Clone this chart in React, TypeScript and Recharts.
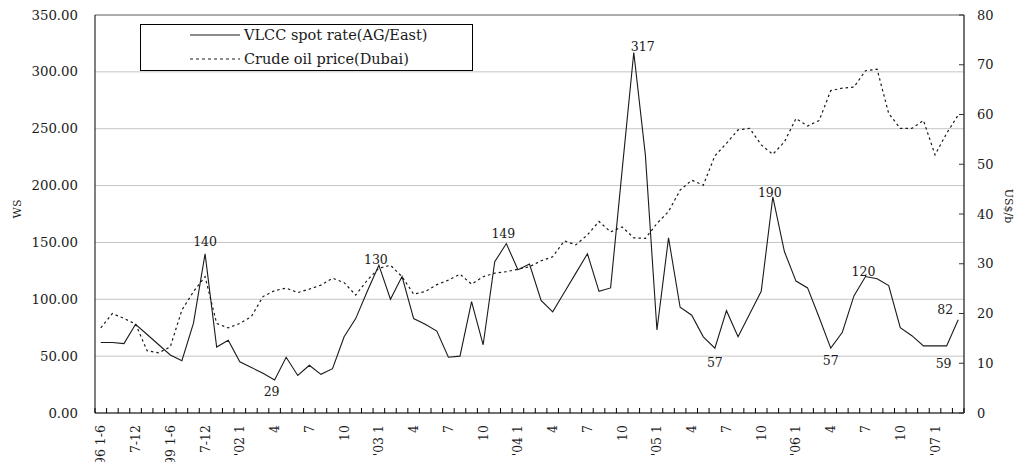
import React from 'react';
import { LineChart, Line, XAxis, YAxis, CartesianGrid, Legend, LabelList, ReferenceLine } from 'recharts';

const categories: string[] = [
  "'96 1-6", "'96 7-12", "'97 1-6", "'97 7-12", "'98 1-6", "'98 7-12",
  "'99 1-6", "'99 7-12", "'00 1-6", "'00 7-12", "'01 1-6", "'01 7-12",
  "'02 1", "'02 2", "'02 3", "'02 4", "'02 5", "'02 6", "'02 7", "'02 8", "'02 9", "'02 10", "'02 11", "'02 12",
  "'03 1", "'03 2", "'03 3", "'03 4", "'03 5", "'03 6", "'03 7", "'03 8", "'03 9", "'03 10", "'03 11", "'03 12",
  "'04 1", "'04 2", "'04 3", "'04 4", "'04 5", "'04 6", "'04 7", "'04 8", "'04 9", "'04 10", "'04 11", "'04 12",
  "'05 1", "'05 2", "'05 3", "'05 4", "'05 5", "'05 6", "'05 7", "'05 8", "'05 9", "'05 10", "'05 11", "'05 12",
  "'06 1", "'06 2", "'06 3", "'06 4", "'06 5", "'06 6", "'06 7", "'06 8", "'06 9", "'06 10", "'06 11", "'06 12",
  "'07 1", "'07 2", "'07 3",
];

// VLCC spot rate (AG/East), WS
const vlccRate: number[] = [
  62, 62, 61, 78, 69, 60, 51, 46, 79, 140, 58, 64,
  45, 40, 35, 29, 49, 33, 42, 34, 39, 67, 83, 107,
  130, 100, 120, 83, 78, 72, 49, 50, 98, 60, 133, 149,
  126, 131, 99, 89, 106, 123, 140, 107, 110, 214, 317, 227,
  73, 154, 93, 86, 67, 57, 90, 67, 87, 107, 190, 142,
  116, 110, 84, 57, 71, 103, 120, 118, 112, 75, 68, 59,
  59, 59, 82,
];

// Crude oil price (Dubai), US$/b
const crudePrice: number[] = [
  17.1, 20.0, 19.0, 17.9, 12.5, 12.1, 13.3, 20.7, 24.4, 27.4, 18.0, 17.1,
  18.0, 19.4, 23.4, 24.6, 25.1, 24.2, 24.9, 25.7, 27.1, 26.2, 23.7, 26.7,
  29.1, 29.7, 27.4, 23.9, 24.4, 25.8, 26.7, 27.9, 25.9, 27.4, 28.1, 28.4,
  28.9, 29.4, 30.6, 31.4, 34.6, 33.8, 35.8, 38.5, 36.4, 37.4, 35.2, 35.1,
  38.1, 40.5, 44.8, 46.8, 45.8, 51.7, 54.2, 56.9, 57.2, 53.9, 52.0, 54.5,
  59.2, 57.7, 58.8, 64.8, 65.3, 65.5, 68.8, 69.1, 60.2, 57.2, 57.2, 58.8,
  51.9, 56.2, 59.9,
];

const xTickCategories: string[] = [
  "'96 1-6", "'97 7-12", "'99 1-6", "'00 7-12",
  "'02 1", "'02 4", "'02 7", "'02 10",
  "'03 1", "'03 4", "'03 7", "'03 10",
  "'04 1", "'04 4", "'04 7", "'04 10",
  "'05 1", "'05 4", "'05 7", "'05 10",
  "'06 1", "'06 4", "'06 7", "'06 10",
  "'07 1",
];
const xTickLabels: string[] = [
  "'96 1-6", "7-12", "'99 1-6", "7-12",
  "'02 1", "4", "7", "10",
  "'03 1", "4", "7", "10",
  "'04 1", "4", "7", "10",
  "'05 1", "4", "7", "10",
  "'06 1", "4", "7", "10",
  "'07 1",
];

const wsTicks = [0, 50, 100, 150, 200, 250, 300, 350];
const usdTicks = [0, 10, 20, 30, 40, 50, 60, 70, 80];

const labelledPoints: number[] = [9, 15, 24, 35, 46, 53, 58, 63, 66, 73, 74];
const labelOffsets: Record<number, [number, number]> = {
  9: [0, -12], 15: [-3, 11], 24: [-3, -6], 35: [-3, -10], 46: [9, -6],
  53: [0, 14], 58: [-3, -4], 63: [0, 12], 66: [-2, -5], 73: [-3, 18], 74: [-13, -10],
};

const data = categories.map((c, i) => ({ period: c, vlcc: vlccRate[i], crude: crudePrice[i] }));

const FONT = '"DejaVu Serif", serif';
const INK = '#1a1a1a';

const XTick = (props: any) => {
  const { x, y, payload } = props;
  const off = payload && payload.offset ? payload.offset : 0;
  const idx = xTickCategories.indexOf(payload.value);
  const label = idx >= 0 ? xTickLabels[idx] : '';
  const isLast = payload.value === categories[categories.length - 1];
  return (
    <g>
      <line x1={x - off} x2={x - off} y1={y} y2={y - 5} stroke="#000" strokeWidth={1} />
      {isLast && <line x1={x + off} x2={x + off} y1={y} y2={y - 5} stroke="#000" strokeWidth={1} />}
      {label && (
        <text
          transform={`translate(${x},${y + 12}) rotate(-90)`}
          textAnchor="end"
          dominantBaseline="central"
          fontFamily={FONT}
          fontSize={12.5}
          fill={INK}
        >
          {label}
        </text>
      )}
    </g>
  );
};

const RightTick = (props: any) => {
  const { x, y, payload } = props;
  const ax = x - 13;
  return (
    <g>
      <line x1={ax} x2={ax - 5} y1={y} y2={y} stroke="#333" strokeWidth={1} />
      <text x={x} y={y} textAnchor="start" dominantBaseline="central" fontFamily={FONT} fontSize={13} fill={INK}>
        {payload.value}
      </text>
    </g>
  );
};

const LeftTick = (props: any) => {
  const { x, y, payload } = props;
  return (
    <text x={x} y={y} textAnchor="end" dominantBaseline="central" fontFamily={FONT} fontSize={13.3} fill={INK}>
      {Number(payload.value).toFixed(2)}
    </text>
  );
};

const LeftTitle = (props: any) => {
  const vb = props.viewBox || { x: 0, y: 15, width: 95, height: 398 };
  const cx = vb.x + 17;
  const cy = vb.y + vb.height / 2 - 5;
  return (
    <text x={cx} y={cy} transform={`rotate(-90 ${cx} ${cy})`} textAnchor="middle" dominantBaseline="central" fontFamily={FONT} fontSize={11} fill={INK}>
      WS
    </text>
  );
};

const RightTitle = (props: any) => {
  const vb = props.viewBox || { x: 964, y: 15, width: 53, height: 398 };
  const cx = vb.x + 44;
  const cy = vb.y + vb.height / 2 - 8;
  return (
    <text x={cx} y={cy} transform={`rotate(90 ${cx} ${cy})`} textAnchor="middle" dominantBaseline="central" fontFamily={FONT} fontSize={11} fill={INK}>
      US$/b
    </text>
  );
};

const PointLabel = (props: any) => {
  const { x, y, value, index } = props;
  if (!labelledPoints.includes(index)) return null;
  const [dx, dy] = labelOffsets[index] || [0, -10];
  return (
    <text x={x + dx} y={y + dy} textAnchor="middle" dominantBaseline="central" fontFamily={FONT} fontSize={12.5} fill={INK}>
      {value}
    </text>
  );
};

const LegendBox = () => (
  <div style={{ width: 333, height: 47, border: '1px solid #000', boxSizing: 'border-box', background: '#fff' }}>
    <svg width={331} height={45} style={{ display: 'block' }}>
      <line x1={49} x2={99} y1={10} y2={10} stroke={INK} strokeWidth={1.2} />
      <text x={103} y={10} dominantBaseline="central" fontFamily={FONT} fontSize={14.5} fill={INK}>
        VLCC spot rate(AG/East)
      </text>
      <line x1={49} x2={99} y1={34} y2={34} stroke={INK} strokeWidth={1.2} strokeDasharray="3 3" />
      <text x={103} y={34} dominantBaseline="central" fontFamily={FONT} fontSize={14.5} fill={INK}>
        Crude oil price(Dubai)
      </text>
    </svg>
  </div>
);

export default function App() {
  return (
    <div style={{ position: 'absolute', left: 0, top: 0, width: 1017, height: 462, background: '#fff' }}>
      <LineChart width={1017} height={462} data={data} margin={{ top: 15, right: 0, bottom: 0, left: 0 }}>
        <CartesianGrid yAxisId="ws" vertical={false} horizontal stroke="#c4c4c4" strokeWidth={1} />
        <XAxis
          dataKey="period"
          scale="band"
          interval={0}
          height={49}
          tickSize={0}
          tickMargin={0}
          tickLine={false}
          axisLine={{ stroke: '#000', strokeWidth: 1 }}
          tick={<XTick />}
        />
        <YAxis
          yAxisId="ws"
          domain={[0, 350]}
          ticks={wsTicks}
          width={95}
          tickSize={0}
          tickMargin={17}
          tickLine={false}
          axisLine={{ stroke: '#000', strokeWidth: 1 }}
          tick={<LeftTick />}
          label={{ content: <LeftTitle /> }}
        />
        <YAxis
          yAxisId="usd"
          orientation="right"
          domain={[0, 80]}
          ticks={usdTicks}
          width={53}
          tickSize={0}
          tickMargin={13}
          tickLine={false}
          axisLine={{ stroke: '#444', strokeWidth: 1.5 }}
          tick={<RightTick />}
          label={{ content: <RightTitle /> }}
        />
        <ReferenceLine yAxisId="ws" y={350} stroke="#7a7a7a" strokeWidth={1.2} />
        <Legend
          layout="horizontal"
          verticalAlign="middle"
          align="center"
          content={<LegendBox />}
          wrapperStyle={{ left: 140, top: 24, width: 333, height: 47 }}
        />
        <Line
          yAxisId="usd"
          dataKey="crude"
          name="Crude oil price(Dubai)"
          stroke={INK}
          strokeWidth={1.2}
          strokeDasharray="2.5 3"
          dot={false}
          isAnimationActive={false}
        />
        <Line
          yAxisId="ws"
          dataKey="vlcc"
          name="VLCC spot rate(AG/East)"
          stroke={INK}
          strokeWidth={1.1}
          dot={false}
          isAnimationActive={false}
        >
          <LabelList dataKey="vlcc" content={<PointLabel />} />
        </Line>
      </LineChart>
    </div>
  );
}
